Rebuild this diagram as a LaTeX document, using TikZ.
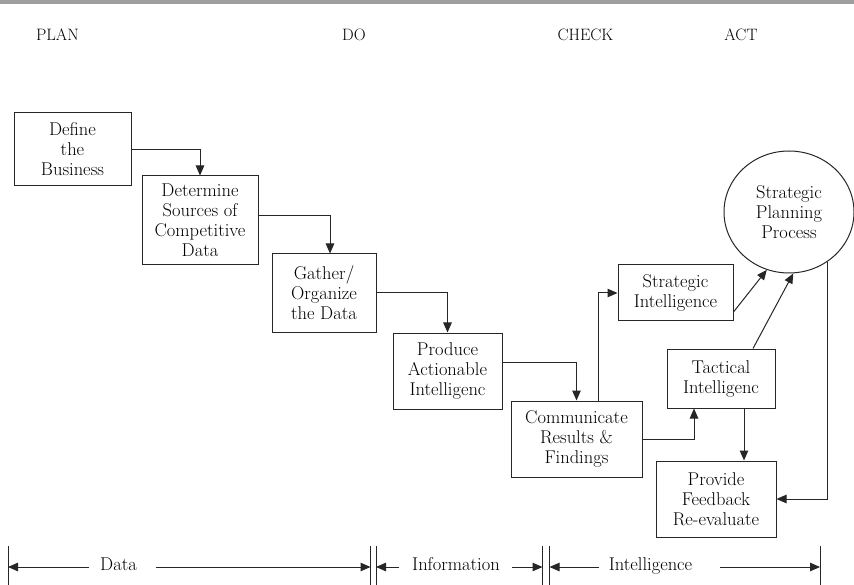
\documentclass[tikz,border=0pt]{standalone}
\usepackage{xcolor}
\usetikzlibrary{arrows.meta,shapes.geometric,positioning}

\begin{document}
\begin{tikzpicture}[x=1pt,y=-1pt,
        every node/.style={font=\fontsize{18.5}{20}\selectfont, text=black},
        box/.style={draw=black!85, line width=1pt, align=center, inner sep=0pt},
        flow/.style={draw=black!85, line width=1pt, -{Triangle[length=10pt,width=8.5pt]}},
        tickline/.style={draw=black!85, line width=1pt},
        dimlabel/.style={inner sep=0pt, text height=12pt, text depth=6pt}]
        \useasboundingbox (0,0) rectangle (854,585);
        \fill [black!38] (0,0) rectangle (854,4.5);

        \foreach \x/\name/\txt in {57.5/plan/PLAN, 354/do/DO, 585.5/check/CHECK, 741/act/ACT} {
            \node [font=\fontsize{16.5}{20}\selectfont] (\name) at (\x,35) {\txt};
        }

        \node [box, minimum width=117, minimum height=73] (define) at (72.5,149.5) {Define\\the\\Business};
        \node [box, minimum width=116, minimum height=89] (determine) at (200,220.5) {Determine\\Sources of\\Competitive\\Data};
        \node [box, minimum width=104, minimum height=78] (gather) at (324,293) {Gather/\\Organize\\the Data};
        \node [box, minimum width=109, minimum height=76] (produce) at (447.5,371) {Produce\\Actionable\\Intelligenc};
        \node [box, minimum width=131, minimum height=76] (communicate) at (576.5,439) {Communicate\\Results \&\\Findings};
        \node [box, minimum width=115, minimum height=56] (strategic) at (675.5,293) {Strategic\\Intelligence};
        \node [box, minimum width=108, minimum height=59] (tactical) at (721,378.5) {Tactical\\Intelligenc};
        \node [box, minimum width=120, minimum height=76] (feedback) at (716,499) {Provide\\Feedback\\Re-evaluate};
        \node [box, ellipse, minimum width=130, minimum height=122] (planning) at (789,212) {Strategic\\Planning\\Process};

        \draw [flow] (define.east) -| (determine.north);
        \draw [flow] ([yshift=5]determine.east) -| ([xshift=6]gather.north);
        \draw [flow] (gather.east) -| (produce.north);
        \draw [flow] ([yshift=9]produce.east) -| (communicate.north);
        \draw [flow] ([xshift=21.5]communicate.north) |- (strategic.west);
        \draw [flow] (communicate.east) -| ([xshift=-27]tactical.south);
        \draw [flow] ([xshift=23]tactical.south) -- ([xshift=23]tactical.south |- feedback.north);
        \draw [flow] ([yshift=-19]strategic.east) -- (planning.-111);
        \draw [flow] ([xshift=32]tactical.north) -- (planning.-86);
        \draw [flow] (planning.-52) |- (feedback.east);

        \foreach \x/\name in {8/t0, 370.5/t1, 376/t2, 542.5/t3, 549.5/t4, 820/t5} {
            \coordinate (\name) at (\x,567);
            \draw [tickline] ([yshift=21]\name) -- ([yshift=-18]\name);
        }
        \node [dimlabel] (data) at (118.5,567) {Data};
        \node [dimlabel] (info) at (456,567) {Information};
        \node [dimlabel] (intel) at (650.5,567) {Intelligence};
        \draw [flow] ([xshift=-11]data.west) -- (t0);
        \draw [flow] ([xshift=19]data.east) -- (t1);
        \draw [flow] ([xshift=-13]info.west) -- (t2);
        \draw [flow] ([xshift=12]info.east) -- (t3);
        \draw [flow] ([xshift=-10]intel.west) -- (t4);
        \draw [flow] ([xshift=28]intel.east) -- (t5);
    \end{tikzpicture}
\end{document}
